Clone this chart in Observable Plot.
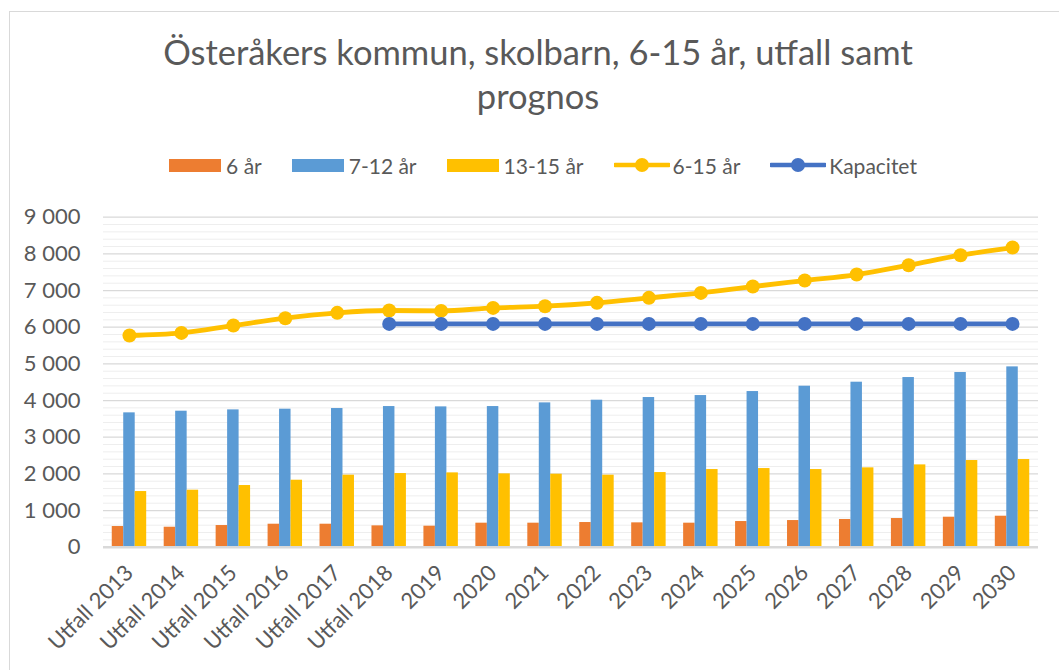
<!DOCTYPE html>
<html><head><meta charset="utf-8">
<script src="https://cdn.jsdelivr.net/npm/d3@7"></script>
<script src="https://cdn.jsdelivr.net/npm/@observablehq/plot@0.6"></script>
<style>
html,body{margin:0;padding:0;background:#fff;width:1059px;height:670px;overflow:hidden;font-family:Lato,"Open Sans",sans-serif;color:#595959}
#frame{position:absolute;left:9px;top:11px;width:1062px;height:690px;border:1.5px solid #d9d9d9;box-sizing:border-box}
#title{position:absolute;left:0;width:1076px;top:30px;text-align:center;font-size:34.5px;line-height:44px;font-weight:400;color:#595959}
#legend{position:absolute;left:0;width:1086px;top:153px;height:24px;display:flex;justify-content:center;align-items:center;font-size:21px;color:#595959}
.item{display:flex;align-items:center;margin:0 15px}
.sw{width:52px;height:13px;margin-right:5px}
#chart{position:absolute;left:0;top:190px}
</style></head>
<body>
<div id="frame"></div>
<div id="title">Österåkers kommun, skolbarn, 6-15 år, utfall samt<br>prognos</div>
<div id="legend"></div>
<div id="chart"></div>
<script>
const categories = ["Utfall 2013","Utfall 2014","Utfall 2015","Utfall 2016","Utfall 2017","Utfall 2018","2019","2020","2021","2022","2023","2024","2025","2026","2027","2028","2029","2030"];
const age6 = [564,545,591,627,627,582,573,655,655,673,664,655,700,727,755,782,818,845];
const age7_12 = [3664,3709,3745,3764,3782,3836,3827,3836,3936,4009,4082,4136,4245,4391,4500,4627,4764,4918];
const age13_15 = [1518,1555,1682,1827,1964,2009,2027,2000,1991,1964,2036,2118,2145,2118,2164,2245,2364,2391];
const total6_15 = [5773,5845,6045,6245,6391,6455,6445,6527,6573,6664,6800,6936,7109,7273,7436,7691,7964,8173];
const capacity = [null,null,null,null,null,6090,6090,6090,6090,6090,6090,6090,6090,6090,6090,6090,6090,6090];
const yTicks = [0,1000,2000,3000,4000,5000,6000,7000,8000,9000];
const seriesNames = ["6 år","7-12 år","13-15 år","6-15 år","Kapacitet"];
const colors = ["#ed7d31","#5b9bd5","#ffc000","#ffc000","#4472c4"];

const rows = categories.map((c,i)=>({cat:c, a6:age6[i], a7:age7_12[i], a13:age13_15[i], tot:total6_15[i], cap:capacity[i]}));
const capRows = rows.filter(d=>d.cap!=null);
const minor = d3.range(0, 9001, 200).filter(v => v % 1000 !== 0);
const fmt = d => d3.format(",")(d).replace(/,/g, "\u00a0");

// legend
const leg = document.getElementById("legend");
seriesNames.forEach((n,i)=>{
  const it = document.createElement("div"); it.className="item";
  if (i<3) {
    it.innerHTML = `<div class="sw" style="background:${colors[i]}"></div><span>${n}</span>`;
  } else {
    it.innerHTML = `<svg width="56" height="16" style="margin-right:3px"><line x1="1" y1="8" x2="55" y2="8" stroke="${colors[i]}" stroke-width="4.5" stroke-linecap="round"/><circle cx="28" cy="8" r="7" fill="${colors[i]}"/></svg><span>${n}</span>`;
  }
  leg.appendChild(it);
});

const bw = 11.48;
const chart = Plot.plot({
  width:1059, height:480,
  marginLeft:103, marginRight:21, marginTop:26.7, marginBottom:123.3,
  style:{fontFamily:"Lato, 'Open Sans', sans-serif", fontSize:"21px", color:"#595959", background:"transparent", overflow:"visible"},
  x:{type:"band", domain:categories, paddingInner:0.779, paddingOuter:0.3895, round:false, label:null},
  y:{domain:[0,9000], label:null},
  marks:[
    Plot.ruleY(minor, {stroke:"#eeeeee", strokeWidth:1}),
    Plot.ruleY(yTicks.slice(1), {stroke:"#d9d9d9", strokeWidth:1.2}),
    Plot.barY(rows, {x:"cat", y:"a6", fill:colors[0], dx:-bw}),
    Plot.barY(rows, {x:"cat", y:"a7", fill:colors[1]}),
    Plot.barY(rows, {x:"cat", y:"a13", fill:colors[2], dx:bw}),
    Plot.ruleY([0], {stroke:"#d9d9d9", strokeWidth:2.5}),
    Plot.line(rows, {x:"cat", y:"tot", stroke:colors[3], strokeWidth:4.8, curve:"monotone-x"}),
    Plot.dot(rows, {x:"cat", y:"tot", r:7, fill:colors[3]}),
    Plot.line(capRows, {x:"cat", y:"cap", stroke:colors[4], strokeWidth:4.8}),
    Plot.dot(capRows, {x:"cat", y:"cap", r:7, fill:colors[4]}),
    Plot.axisY({ticks:yTicks, tickSize:0, tickPadding:23, tickFormat:fmt, fontSize:22, fill:"#595959", label:null}),
    Plot.axisX({tickSize:0, tickRotate:-45, tickPadding:22, fontSize:22, fill:"#595959", label:null})
  ]
});
document.getElementById("chart").appendChild(chart);
</script>
</body></html>
